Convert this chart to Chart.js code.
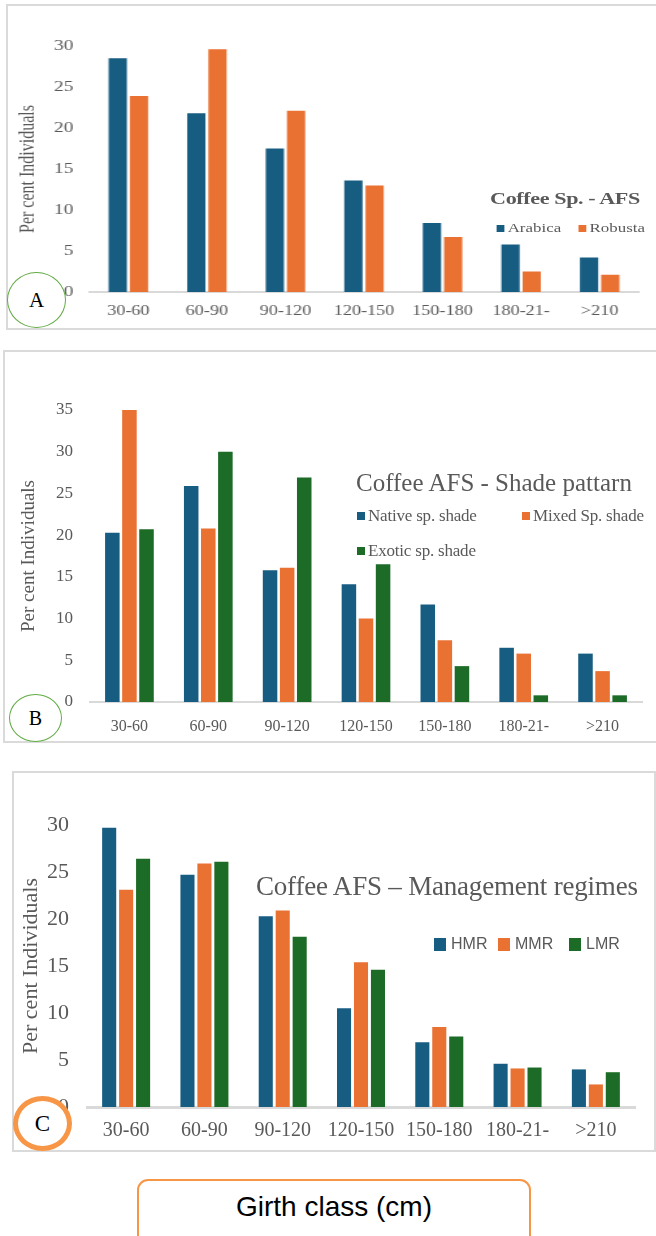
<!DOCTYPE html>
<html>
<head>
<meta charset="utf-8">
<script src="https://cdn.jsdelivr.net/npm/chart.js@4.4.1/dist/chart.umd.min.js"></script>
<style>
  html, body { margin: 0; padding: 0; background: #fff; }
  body { width: 656px; height: 1236px; position: relative; overflow: hidden; font-family: 'Liberation Serif', 'Times New Roman', serif; color: #595959; }
  .panel { position: absolute; border: 2px solid #dadada; box-sizing: border-box; }
  .abs { position: absolute; white-space: nowrap; }
  .mark { position: absolute; }
  .circle { position: absolute; background: #fff; border-radius: 50%; box-sizing: border-box; color: #000; display: flex; align-items: center; justify-content: center; }
</style>
</head>
<body>
<div class="panel" style="left:6px; top:4px; width:660px; height:326px;"></div>
<div class="panel" style="left:3px; top:350px; width:660px; height:393px;"></div>
<div class="panel" style="left:12px; top:771px; width:644px; height:381px;"></div>

<!-- panel A is horizontally stretched in the original -->
<div id="wrapA" style="position:absolute; left:0; top:0; width:505px; height:335px; transform:scaleX(1.3); transform-origin:0 0;">
  <canvas id="chartA" width="505" height="335"></canvas>
  <div id="legA"></div>
</div>
<canvas id="chartB" width="656" height="410" style="position:absolute; left:0; top:340px;"></canvas>
<div id="legB"></div>
<canvas id="chartC" width="656" height="400" style="position:absolute; left:0; top:760px;"></canvas>
<div id="legC"></div>

<div class="circle" style="left:7px; top:272px; width:59px; height:56px; border:1.5px solid #62ab44; font-size:21px;">A</div>
<div class="circle" style="left:9px; top:694px; width:53px; height:48px; border:1.5px solid #62ab44; font-size:20px;">B</div>
<div class="circle" style="left:13px; top:1096px; width:59px; height:55px; border:5px solid #f79646; font-size:23px;">C</div>

<div style="position:absolute; left:137px; top:1179px; width:394px; height:70px; border:2px solid #f79646; border-radius:11px; box-sizing:border-box;"></div>
<div class="abs" style="left:137px; top:1191px; width:394px; text-align:center; font-family:'Liberation Sans', Arial, sans-serif; font-size:28px; color:#000;">Girth class (cm)</div>

<script>
const girthClasses = ['30-60', '60-90', '90-120', '120-150', '150-180', '180-21-', '>210'];

// A: coffee species
const arabica = [28.5, 21.8, 17.5, 13.6, 8.4, 5.8, 4.2];
const robusta = [23.9, 29.6, 22.1, 13.0, 6.7, 2.5, 2.1];

// B: shade pattern
const nativeShade = [20.3, 25.9, 15.8, 14.1, 11.7, 6.5, 5.8];
const mixedShade = [35.1, 20.8, 16.1, 10.0, 7.4, 5.8, 3.7];
const exoticShade = [20.7, 30.0, 26.9, 16.5, 4.3, 0.8, 0.8];

// C: management regimes
const hmr = [29.7, 24.7, 20.3, 10.5, 6.9, 4.6, 4.0];
const mmr = [23.1, 25.9, 20.9, 15.4, 8.5, 4.1, 2.4];
const lmr = [26.4, 26.1, 18.1, 14.6, 7.5, 4.2, 3.7];

const yMaxA = 30, yMaxB = 35, yMaxC = 30, yStep = 5;

const BLUE = '#175d82', ORANGE = '#e97132', GREEN = '#1c6b26';
const SERIF = "'Liberation Serif', 'Times New Roman', serif";
const GREY = '#595959';

function makeChart(id, labels, datasets, o) {
  return new Chart(document.getElementById(id), {
    type: 'bar',
    data: { labels: labels, datasets: datasets },
    options: {
      responsive: false,
      animation: false,
      devicePixelRatio: 1,
      layout: { padding: o.pad },
      datasets: { bar: { categoryPercentage: o.cat, barPercentage: o.bar } },
      plugins: { legend: { display: false }, tooltip: { enabled: false } },
      scales: {
        x: {
          grid: { display: false, drawTicks: false },
          border: { display: true, color: '#d9d9d9', width: o.axisW },
          ticks: { color: GREY, font: { family: SERIF, size: o.xFont }, padding: o.xPad, maxRotation: 0, autoSkip: false },
          afterFit: s => { s.height = o.xH; }
        },
        y: {
          min: 0, max: o.max,
          grid: { display: false, drawTicks: false },
          border: { display: false },
          ticks: { stepSize: yStep, color: GREY, font: { family: SERIF, size: o.yFont }, padding: o.yPad },
          title: { display: true, text: 'Per cent Individuals', color: GREY, font: { family: SERIF, size: o.titleFont }, padding: { top: o.titlePad, bottom: 0 } },
          afterFit: s => { s.width = o.yW; }
        }
      }
    }
  });
}

const chartA = makeChart('chartA', girthClasses, [
  { label: 'Arabica', data: arabica, backgroundColor: BLUE },
  { label: 'Robusta', data: robusta, backgroundColor: ORANGE }
], { pad: { left: 0, top: 46, right: 13.5, bottom: 7 }, cat: 0.54, bar: 0.86, axisW: 2,
     xFont: 14, xPad: 11, xH: 36, yFont: 15, yPad: 12, yW: 68.5, max: yMaxA, titleFont: 16, titlePad: 12 });

const chartB = makeChart('chartB', girthClasses, [
  { label: 'Native sp. shade', data: nativeShade, backgroundColor: BLUE },
  { label: 'Mixed Sp. shade', data: mixedShade, backgroundColor: ORANGE },
  { label: 'Exotic sp. shade', data: exoticShade, backgroundColor: GREEN }
], { pad: { left: 0, top: 70, right: 14, bottom: 12 }, cat: 0.65, bar: 0.85, axisW: 2,
     xFont: 16, xPad: 15, xH: 36, yFont: 17, yPad: 17, yW: 90, max: yMaxB, titleFont: 19, titlePad: 18 });

const chartC = makeChart('chartC', girthClasses, [
  { label: 'HMR', data: hmr, backgroundColor: BLUE },
  { label: 'MMR', data: mmr, backgroundColor: ORANGE },
  { label: 'LMR', data: lmr, backgroundColor: GREEN }
], { pad: { left: 0, top: 65, right: 21, bottom: 13 }, cat: 0.65, bar: 0.83, axisW: 3,
     xFont: 20, xPad: 12, xH: 40, yFont: 22, yPad: 18, yW: 87, max: yMaxC, titleFont: 22, titlePad: 18 });

// legends built from the chart datasets
function addText(parent, text, left, cy, css) {
  const d = document.createElement('div');
  d.className = 'abs';
  d.textContent = text;
  d.style.cssText += css;
  d.style.left = left + 'px';
  d.style.top = cy + 'px';
  d.style.transform = 'translateY(-50%)';
  parent.appendChild(d);
  return d;
}
function addMark(parent, color, left, cy, w, h) {
  const m = document.createElement('div');
  m.className = 'mark';
  m.style.cssText = `left:${left}px; top:${cy - h / 2}px; width:${w}px; height:${h}px; background:${color};`;
  parent.appendChild(m);
}
function legend(chart, parentId, title, titleCss, items, css, mw, mh, gap) {
  const p = document.getElementById(parentId);
  if (title) addText(p, title.text, title.x, title.y, titleCss);
  chart.data.datasets.forEach((ds, i) => {
    const it = items[i];
    addMark(p, ds.backgroundColor, it.x, it.y, mw, mh);
    addText(p, ds.label, it.x + mw + gap, it.y, css);
  });
}

// panel A legend (coordinates inside the stretched wrapper)
legend(chartA, 'legA', { text: 'Coffee Sp. - AFS', x: 377, y: 199 },
  `font-family:${SERIF}; font-weight:bold; font-size:17px; letter-spacing:-0.3px; color:${GREY};`,
  [{ x: 382, y: 228 }, { x: 445, y: 228 }],
  `font-family:${SERIF}; font-size:13px; color:${GREY};`, 6.2, 7, 2.3);

legend(chartB, 'legB', { text: 'Coffee AFS - Shade pattarn', x: 356, y: 483 },
  `font-family:${SERIF}; font-size:25px; color:${GREY};`,
  [{ x: 357, y: 516 }, { x: 522, y: 516 }, { x: 357, y: 551 }],
  `font-family:${SERIF}; font-size:17px; color:${GREY}; letter-spacing:-0.2px;`, 8, 8, 3);

legend(chartC, 'legC', { text: 'Coffee AFS \u2013 Management regimes', x: 256, y: 886 },
  `font-family:${SERIF}; font-size:27px; color:${GREY}; letter-spacing:-0.2px;`,
  [{ x: 434, y: 944 }, { x: 498, y: 944 }, { x: 569, y: 944 }],
  `font-family:'Liberation Sans', Arial, sans-serif; font-size:16px; color:${GREY};`, 12, 13, 5);
</script>
</body>
</html>
